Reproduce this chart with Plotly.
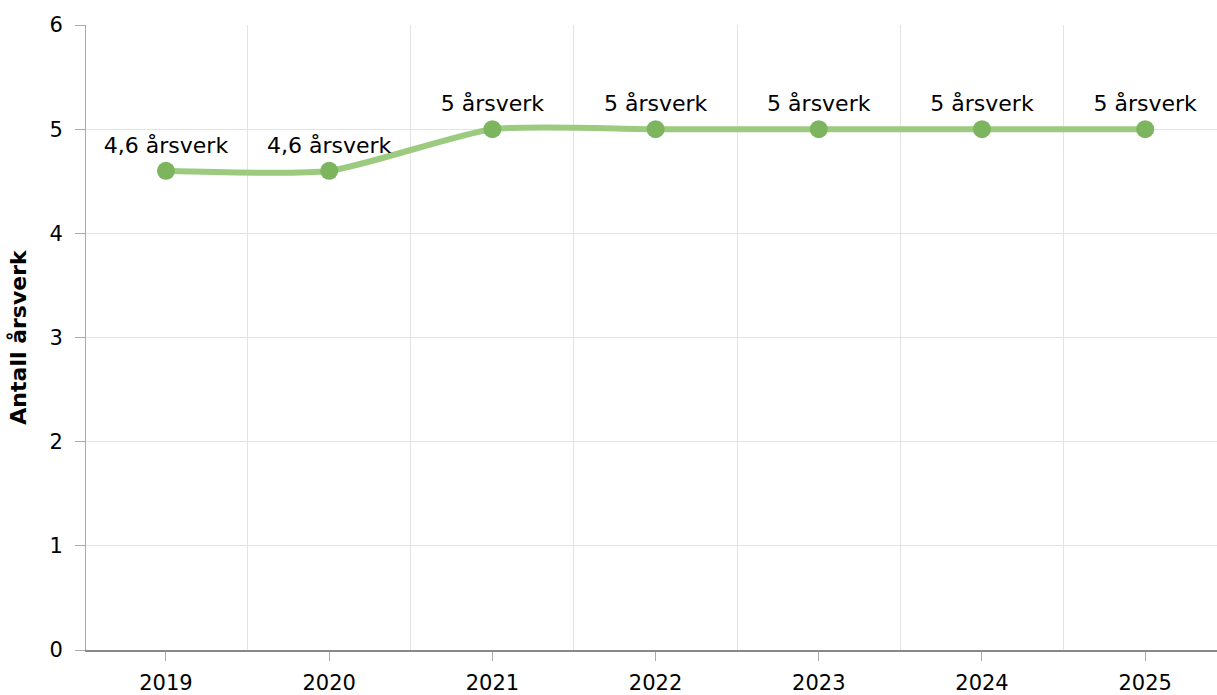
import plotly.graph_objects as go

years = [2019, 2020, 2021, 2022, 2023, 2024, 2025]
values = [4.6, 4.6, 5, 5, 5, 5, 5]
labels = ["4,6 årsverk", "4,6 årsverk", "5 årsverk", "5 årsverk", "5 årsverk", "5 årsverk", "5 årsverk"]
y_title = "Antall årsverk"

font_family = "DejaVu Sans, Verdana, sans-serif"

fig = go.Figure()
fig.add_trace(go.Scatter(
    x=years, y=values, mode="lines+markers+text",
    text=labels, textposition="top center",
    textfont=dict(family=font_family, size=22, color="#000000"),
    line=dict(color="#9ccb80", width=6, shape="spline", smoothing=0.6),
    marker=dict(color="#7db45e", size=18),
    cliponaxis=False,
    hoverinfo="x+y",
))

fig.update_layout(
    width=1217, height=695,
    margin=dict(l=86, r=0, t=25, b=45),
    paper_bgcolor="white", plot_bgcolor="white",
    showlegend=False,
    font=dict(family=font_family, size=21, color="#000000"),
    xaxis=dict(
        range=[2018.51, 2025.44],
        tickvals=years, ticktext=[str(y) for y in years],
        showgrid=False, zeroline=False, automargin=False,
        showline=True, linecolor="#888888", linewidth=2,
        ticks="outside", ticklen=9, tickcolor="#aaaaaa", tickwidth=1,
        ticklabelstandoff=4,
        minor=dict(tickvals=[y + 0.5 for y in years[:-1]], showgrid=True,
                   gridcolor="#e3e3e3", gridwidth=1, ticklen=0),
        tickfont=dict(size=21),
    ),
    yaxis=dict(
        range=[0, 6], dtick=1, automargin=False,
        showgrid=True, gridcolor="#e3e3e3", gridwidth=1, zeroline=False,
        showline=True, linecolor="#aaaaaa", linewidth=1,
        ticks="outside", ticklen=10, tickcolor="#aaaaaa",
        ticklabelstandoff=8,
        tickfont=dict(size=21),
        title=dict(text="<b>" + y_title + "</b>", font=dict(size=22), standoff=16),
    ),
)

fig.write_html("out.html", config={"displayModeBar": False},
               post_script="document.body.style.margin='0';")
